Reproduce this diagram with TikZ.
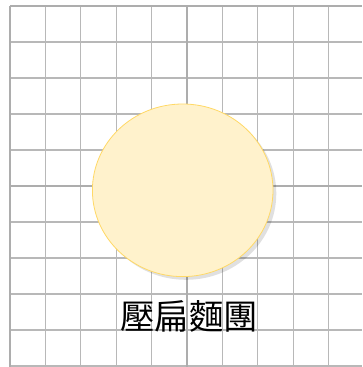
\documentclass[tikz,border=0pt]{standalone}
\usepackage{fontspec}
\usetikzlibrary{shapes.geometric}
\newfontfamily\cjk{Noto Sans CJK TC}
\begin{document}
\begin{tikzpicture}[x=1pt,y=-1pt,
  gridline/.style={draw=black!28,line width=1.3pt},
  axisline/.style={draw=black!32,line width=2.2pt},
  dough/.style={ellipse,draw=yellowline,fill=yellowfill,line width=0.8pt,minimum width=180.6pt,minimum height=172.6pt,inner sep=0pt},
  label/.style={font=\cjk\fontsize{34.5}{36}\selectfont,inner sep=0pt}]
\definecolor{yellowfill}{HTML}{FFF2CC}
\definecolor{yellowline}{HTML}{FFD966}
\useasboundingbox (0,0) rectangle (362,367);
\fill[white] (0,0) rectangle (362,367);
\foreach \k in {1,2,3,4,6,7,8,9} {
  \draw[gridline] ({10+35.4*\k},6) -- ({10+35.4*\k},367);
}
\foreach \k in {1,2,3,4,6,7,8,9,10} {
  \draw[gridline] (10,{6+36*\k}) -- (362,{6+36*\k});
}
\draw[axisline] (187,6) -- (187,367);
\draw[axisline] (10,186) -- (362,186);
\draw[axisline] (10,6) -- (362,6);
\draw[axisline] (10,6) -- (10,367);
\fill[black,opacity=0.12] (186,193.5) ellipse [x radius=90.3, y radius=86.3];
\node[dough] (dough) at (182.7,190.3) {};
\node[label] (name) at (189,316) {壓扁麵團};
\end{tikzpicture}
\end{document}
